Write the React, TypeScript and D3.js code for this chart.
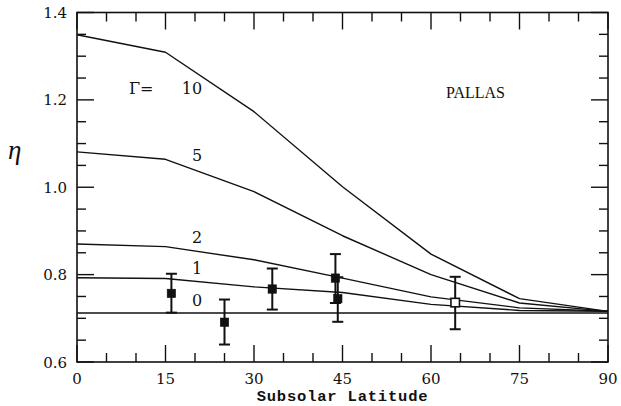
import React from "react";
import * as d3 from "d3";

// Subsolar latitude grid (degrees) on which the model curves are tabulated
const latitudes = [0, 15, 30, 45, 60, 75, 90];

// Model beaming parameter eta for each thermal parameter Gamma
const gammaNames = ["10", "5", "2", "1", "0"];
const etaGamma10 = [1.349, 1.309, 1.173, 1.001, 0.847, 0.745, 0.716];
const etaGamma5 = [1.081, 1.064, 0.99, 0.889, 0.8, 0.735, 0.716];
const etaGamma2 = [0.87, 0.864, 0.834, 0.792, 0.749, 0.724, 0.716];
const etaGamma1 = [0.793, 0.791, 0.772, 0.759, 0.732, 0.718, 0.716];
const etaGamma0 = [0.712, 0.712, 0.712, 0.712, 0.712, 0.712, 0.712];
const modelCurves = [etaGamma10, etaGamma5, etaGamma2, etaGamma1, etaGamma0];

// Observations: latitude, eta, lower and upper error bounds, filled marker?
const obsLatitude = [16, 25, 33.1, 43.8, 44.2, 64.1];
const obsEta = [0.757, 0.691, 0.767, 0.792, 0.745, 0.736];
const obsLow = [0.713, 0.64, 0.72, 0.735, 0.692, 0.675];
const obsHigh = [0.802, 0.743, 0.814, 0.847, 0.794, 0.795];
const obsFilled = [true, true, true, true, true, false];

// Axis ticks
const xMajorTicks = [0, 15, 30, 45, 60, 75, 90];
const xMinorTicks = d3.range(0, 91, 5);
const yMajorTicks = [0.6, 0.8, 1.0, 1.2, 1.4];
const yMinorTicks = d3.range(0.6, 1.4001, 0.05);

const W = 621;
const H = 406;
const left = 77;
const right = 608;
const top = 12.5;
const bottom = 362;

// Where each curve's Gamma number sits (data coordinates)
const labelLat = 21.2;
const labelEta = [1.2137, 1.0606, 0.8731, 0.8023, 0.7291];

export default function App() {
  const x = d3.scaleLinear().domain([0, 90]).range([left, right]);
  const y = d3.scaleLinear().domain([0.6, 1.4]).range([bottom, top]);
  const line = d3
    .line<number>()
    .x((_, i) => x(latitudes[i]))
    .y((d) => y(d));

  const majorLen = 17;
  const minorLen = 9;
  const tickFont = "'DejaVu Serif', serif";
  const isMajorX = (v: number) => xMajorTicks.some((m) => Math.abs(m - v) < 1e-6);
  const isMajorY = (v: number) => yMajorTicks.some((m) => Math.abs(m - v) < 1e-6);

  return (
    <svg
      width={W}
      height={H}
      viewBox={`0 0 ${W} ${H}`}
      style={{ position: "absolute", left: 0, top: 0, background: "#fff" }}
    >
      {/* frame */}
      <rect
        x={left}
        y={top}
        width={right - left}
        height={bottom - top}
        fill="none"
        stroke="#111"
        strokeWidth={1.6}
      />

      {/* x ticks, bottom and top */}
      {xMinorTicks.map((v) => {
        const len = isMajorX(v) ? majorLen : minorLen;
        return (
          <g key={`xt${v}`} stroke="#111" strokeWidth={1.4}>
            <line x1={x(v)} x2={x(v)} y1={bottom} y2={bottom - len} />
            <line x1={x(v)} x2={x(v)} y1={top} y2={top + len} />
          </g>
        );
      })}

      {/* y ticks, left and right */}
      {yMinorTicks.map((v) => {
        const len = isMajorY(v) ? majorLen : minorLen;
        return (
          <g key={`yt${v.toFixed(2)}`} stroke="#111" strokeWidth={1.4}>
            <line x1={left} x2={left + len} y1={y(v)} y2={y(v)} />
            <line x1={right} x2={right - len} y1={y(v)} y2={y(v)} />
          </g>
        );
      })}

      {/* tick labels */}
      {xMajorTicks.map((v) => (
        <text
          key={`xl${v}`}
          x={x(v)}
          y={384}
          textAnchor="middle"
          fontFamily={tickFont}
          fontSize={15}
          fill="#111"
        >
          {v}
        </text>
      ))}
      {yMajorTicks.map((v) => (
        <text
          key={`yl${v}`}
          x={67}
          y={y(v) + 5.5}
          textAnchor="end"
          fontFamily={tickFont}
          fontSize={15}
          fill="#111"
        >
          {v.toFixed(1)}
        </text>
      ))}

      {/* model curves */}
      {modelCurves.map((c, i) => (
        <path
          key={`c${i}`}
          d={line(c) ?? ""}
          fill="none"
          stroke="#111"
          strokeWidth={1.4}
          strokeLinejoin="round"
        />
      ))}

      {/* curve labels */}
      <text x={129} y={y(labelEta[0])} fontFamily={tickFont} fontSize={16} fill="#111">
        Γ=
      </text>
      {gammaNames.map((g, i) => (
        <text
          key={`g${g}`}
          x={x(labelLat)}
          y={y(labelEta[i])}
          textAnchor="end"
          fontFamily={tickFont}
          fontSize={16}
          fill="#111"
        >
          {g}
        </text>
      ))}

      {/* observations with error bars */}
      {obsLatitude.map((lat, i) => {
        const cx = x(lat);
        const cap = 5.5;
        const s = 8.5;
        return (
          <g key={`o${i}`} stroke="#111">
            <line x1={cx} x2={cx} y1={y(obsLow[i])} y2={y(obsHigh[i])} strokeWidth={2} />
            <line x1={cx - cap} x2={cx + cap} y1={y(obsLow[i])} y2={y(obsLow[i])} strokeWidth={2} />
            <line x1={cx - cap} x2={cx + cap} y1={y(obsHigh[i])} y2={y(obsHigh[i])} strokeWidth={2} />
            <rect
              x={cx - s / 2}
              y={y(obsEta[i]) - s / 2}
              width={s}
              height={s}
              fill={obsFilled[i] ? "#111" : "#fff"}
              strokeWidth={obsFilled[i] ? 0.5 : 1.6}
            />
          </g>
        );
      })}

      {/* annotations and axis titles */}
      <text x={446} y={97.5} fontFamily="'Liberation Serif', serif" fontSize={16} fill="#111">
        PALLAS
      </text>
      <text
        x={8}
        y={159}
        fontFamily="'Liberation Serif', serif"
        fontStyle="italic"
        fontSize={27}
        fill="#111"
      >
        η
      </text>
      <text
        x={342.5}
        y={401}
        textAnchor="middle"
        fontFamily="'Liberation Mono', monospace"
        fontWeight="bold"
        fontSize={15.5}
        letterSpacing={0.8}
        fill="#111"
      >
        Subsolar Latitude
      </text>
    </svg>
  );
}
